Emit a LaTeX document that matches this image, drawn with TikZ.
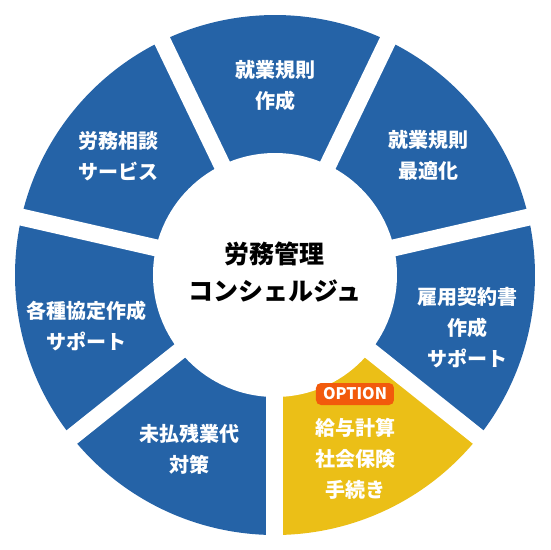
\documentclass[tikz,border=0pt]{standalone}
\usepackage{fontspec}
\setmainfont{Noto Sans CJK JP}
\usepackage{xcolor}
\definecolor{wheelblue}{RGB}{37, 99, 167}
\definecolor{wheelyellow}{RGB}{235, 191, 23}
\definecolor{optorange}{RGB}{242, 90, 12}
\usepackage{tikz}
\usetikzlibrary{positioning}

\tikzset{
  segtext/.style={font=\bfseries\fontsize{20}{31}\selectfont, text=white, align=center},
  hubtext/.style={font=\bfseries\fontsize{25}{37}\selectfont, text=black, align=center},
  gapline/.style={draw=white, line width=17pt}
}

\begin{document}
\begin{tikzpicture}[x=1pt, y=1pt]
      \useasboundingbox (-275,-275) rectangle (275,275);
      % Segments (pie slices, center at origin)
      \fill[wheelblue] (0,0) -- (64.29:260pt) arc[start angle=64.29, end angle=115.71, radius=260pt] -- cycle;
      \fill[wheelblue] (0,0) -- (12.86:260pt) arc[start angle=12.86, end angle=64.29, radius=260pt] -- cycle;
      \fill[wheelblue] (0,0) -- (-38.57:260pt) arc[start angle=-38.57, end angle=12.86, radius=260pt] -- cycle;
      \fill[wheelyellow] (0,0) -- (-90:260pt) arc[start angle=-90, end angle=-38.57, radius=260pt] -- cycle;
      \fill[wheelblue] (0,0) -- (218.57:260pt) arc[start angle=218.57, end angle=270, radius=260pt] -- cycle;
      \fill[wheelblue] (0,0) -- (167.14:260pt) arc[start angle=167.14, end angle=218.57, radius=260pt] -- cycle;
      \fill[wheelblue] (0,0) -- (115.71:260pt) arc[start angle=115.71, end angle=167.14, radius=260pt] -- cycle;
      % Gaps between segments
      \coordinate (hub) at (0,0);
      \coordinate (g1) at (64.29:272pt);
      \coordinate (g2) at (12.86:272pt);
      \coordinate (g3) at (-38.57:272pt);
      \coordinate (g4) at (-90:272pt);
      \coordinate (g5) at (218.57:272pt);
      \coordinate (g6) at (167.14:272pt);
      \coordinate (g7) at (115.71:272pt);
      \draw[gapline] (hub) -- (g1);
      \draw[gapline] (hub) -- (g2);
      \draw[gapline] (hub) -- (g3);
      \draw[gapline] (hub) -- (g4);
      \draw[gapline] (hub) -- (g5);
      \draw[gapline] (hub) -- (g6);
      \draw[gapline] (hub) -- (g7);
      % Center circle
      \fill[white] (hub) circle[radius=122pt];
      \node[hubtext] (concierge) at (0,3) {労務管理\\コンシェルジュ};
      % Segment labels
      \node[segtext] (rules) at (1,189) {就業規則\\作成};
      \node[segtext] (optimize) at (154,120) {就業規則\\最適化};
      \node[segtext] (contract) at (193,-53) {雇用契約書\\作成\\サポート};
      \node[segtext] (payroll) at (81,-184) {給与計算\\社会保険\\手続き};
      \node[segtext] (overtime) at (-85,-174) {未払残業代\\対策};
      \node[segtext] (agreement) at (-188,-51) {各種協定作成\\サポート};
      \node[segtext] (consult) at (-156,119) {労務相談\\サービス};
      % Option badge
      \node[fill=optorange, rounded corners=5pt, minimum width=78pt, minimum height=22pt,
            inner sep=0pt, font=\bfseries\fontsize{16}{16}\selectfont, text=white] (option) at (80,-119) {OPTION};
    \end{tikzpicture}
\end{document}
